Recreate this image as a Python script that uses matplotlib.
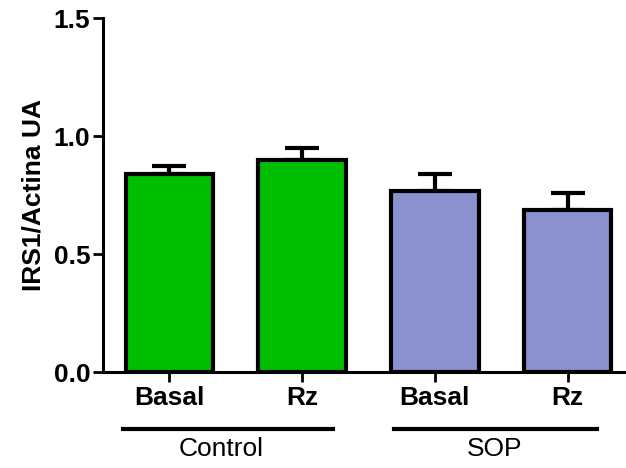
import numpy as np
import matplotlib
matplotlib.use('Agg')
import matplotlib.pyplot as plt
import matplotlib.transforms as mtransforms

# data
labels = ['Basal', 'Rz', 'Basal', 'Rz']
means = [0.84, 0.90, 0.765, 0.685]
errs = [0.035, 0.05, 0.075, 0.075]
colors = ['#00BF00', '#00BF00', '#8B90CE', '#8B90CE']
groups = ['Control', 'SOP']

plt.rcParams['font.family'] = 'Liberation Sans'

fig = plt.figure(figsize=(6.26, 4.68), dpi=100)
ax = fig.add_axes([0.1645, 0.205, 0.8355, 0.7565])

x = np.arange(len(means))
ax.bar(x, means, width=0.66, color=colors, edgecolor='black', linewidth=3, zorder=2)
ax.errorbar(x, means, yerr=[np.zeros(len(errs)), errs], fmt='none', ecolor='black',
            elinewidth=3, capsize=12, capthick=3, zorder=1)

ax.set_xlim(-0.5, 3.44)
ax.set_ylim(0, 1.5)
ax.set_yticks([0.0, 0.5, 1.0, 1.5])
ax.set_yticklabels(['0.0', '0.5', '1.0', '1.5'], fontsize=19, fontweight='bold')
ax.set_xticks(x)
ax.set_xticklabels(labels, fontsize=19, fontweight='bold')
ax.tick_params(axis='y', length=7, width=2, pad=2)
ax.tick_params(axis='x', length=7, width=2, pad=3)
ax.set_ylabel('IRS1/Actina UA', fontsize=19, fontweight='bold', labelpad=6)

for s in ['top', 'right']:
    ax.spines[s].set_visible(False)
ax.spines['left'].set_linewidth(2.2)
ax.spines['bottom'].set_linewidth(2.2)

# group underlines and names
trans = mtransforms.blended_transform_factory(ax.transData, ax.transAxes)
ax.plot([-0.35, 1.23], [-0.16, -0.16], color='black', lw=3, transform=trans, clip_on=False)
ax.plot([1.69, 3.22], [-0.16, -0.16], color='black', lw=3, transform=trans, clip_on=False)
ax.text(0.39, -0.183, groups[0], fontsize=19, ha='center', va='top', transform=trans)
ax.text(2.45, -0.183, groups[1], fontsize=19, ha='center', va='top', transform=trans)

fig.savefig('out.png', dpi=100)
